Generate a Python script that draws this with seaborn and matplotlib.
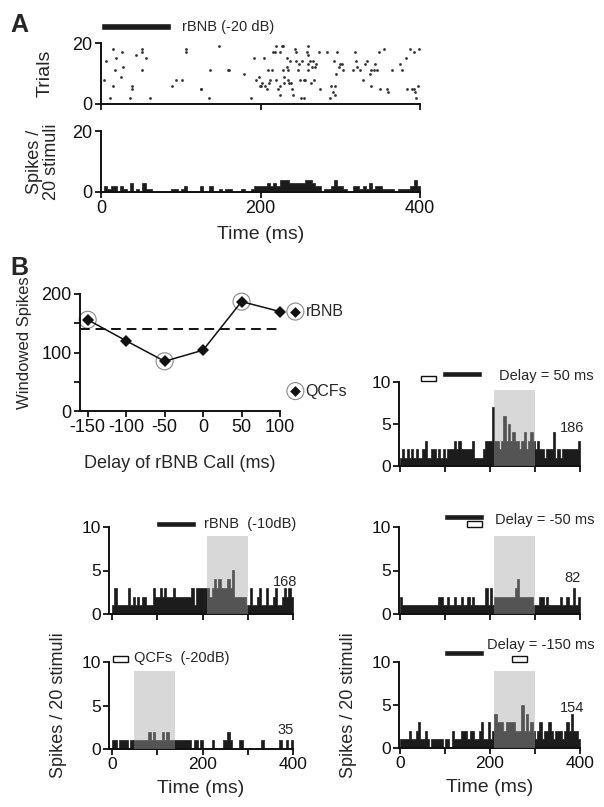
import numpy as np
import pandas as pd
import seaborn as sns
import matplotlib.pyplot as plt

sns.set_theme(style="ticks")
plt.rcParams['font.family'] = ['Liberation Sans', 'DejaVu Sans']
plt.rcParams['axes.unicode_minus'] = False

# ---- panel A: raster (spike time in ms, trial number) ----
raster_ms = [4, 6, 11, 15, 15, 18, 19, 25, 26, 28,
             36, 39, 39, 44, 52, 52, 52, 56, 62, 89,
             94, 102, 107, 107, 125, 126, 136, 137, 148, 159,
             160, 179, 188, 192, 194, 198, 199, 200, 202, 204,
             206, 208, 210, 211, 212, 214, 216, 218, 219, 220,
             222, 225, 225, 225, 227, 228, 228, 230, 230, 233,
             233, 234, 235, 236, 237, 238, 240, 241, 243, 245,
             245, 247, 248, 250, 251, 252, 254, 255, 256, 258,
             259, 259, 260, 260, 262, 263, 264, 266, 267, 268,
             270, 273, 275, 283, 287, 288, 291, 292, 293, 293,
             295, 296, 298, 300, 302, 304, 316, 319, 320, 321,
             325, 329, 331, 333, 337, 338, 339, 342, 344, 346,
             348, 350, 355, 358, 360, 365, 375, 377, 383, 384,
             388, 390, 392, 393, 394, 395, 398, 399]
raster_trial = [8, 14, 2, 18, 6, 11, 15, 9, 17, 12,
                2, 5, 6, 16, 18, 17, 11, 15, 2, 6,
                8, 8, 18, 17, 5, 5, 2, 11, 19, 11,
                11, 10, 2, 15, 8, 9, 6, 6, 7, 15,
                6, 5, 11, 7, 8, 11, 17, 17, 19, 8,
                5, 3, 6, 17, 19, 19, 11, 9, 7, 15,
                12, 8, 11, 7, 14, 7, 5, 3, 18, 17,
                14, 11, 13, 8, 2, 14, 2, 8, 8, 17,
                19, 16, 11, 13, 14, 7, 12, 14, 8, 12,
                13, 17, 5, 17, 2, 6, 4, 14, 6, 3,
                10, 17, 12, 13, 13, 11, 11, 17, 14, 12,
                11, 8, 13, 14, 10, 11, 6, 11, 13, 11,
                17, 5, 18, 5, 4, 11, 13, 11, 15, 5,
                18, 5, 17, 5, 4, 2, 6, 18]

# ---- panel B: windowed spikes vs delay ----
delays = [-150, -100, -50, 0, 50, 100]
windowed = [156, 120, 85, 104, 187, 170]
circled_delays = [-150, -50, 50]
circled_vals = [156, 85, 187]
alone_labels = ["rBNB", "QCFs"]
alone_vals = [170, 34]
baseline_val = 140

# ---- PSTHs, 5 ms bins from 0 to 400 ms ----
bin_starts = np.arange(0, 400, 5)
psth_delay_50 = [1, 2, 1, 2, 1, 2, 1, 2, 1, 1,
                 2, 3, 1, 1, 2, 2, 1, 2, 1, 2,
                 1, 2, 2, 2, 3, 2, 3, 2, 2, 2,
                 2, 2, 3, 1, 1, 1, 1, 2, 3, 3,
                 3, 7, 3, 3, 2, 3, 6, 3, 5, 3,
                 4, 3, 3, 2, 3, 4, 2, 3, 4, 3,
                 2, 3, 2, 2, 1, 2, 2, 2, 4, 1,
                 2, 1, 2, 2, 2, 2, 2, 2, 2, 3]
psth_rbnb_10db = [1, 3, 1, 1, 1, 1, 1, 3, 1, 2,
                  1, 2, 1, 2, 2, 1, 1, 1, 3, 2,
                  2, 3, 2, 3, 2, 2, 2, 3, 2, 2,
                  2, 2, 2, 2, 2, 3, 1, 3, 3, 3,
                  3, 3, 3, 2, 3, 4, 3, 4, 3, 3,
                  3, 4, 3, 5, 2, 2, 2, 2, 2, 1,
                  1, 3, 1, 1, 2, 3, 1, 1, 3, 1,
                  1, 2, 3, 1, 1, 2, 3, 2, 3, 2]
psth_delay_m50 = [2, 1, 1, 1, 1, 1, 1, 1, 1, 1,
                  1, 1, 1, 1, 1, 1, 1, 2, 2, 1,
                  1, 2, 1, 1, 2, 1, 1, 2, 1, 1,
                  2, 1, 2, 1, 1, 1, 1, 1, 3, 1,
                  3, 1, 2, 2, 2, 2, 2, 2, 2, 2,
                  2, 3, 4, 2, 2, 2, 2, 2, 2, 1,
                  1, 1, 2, 2, 1, 2, 1, 1, 1, 1,
                  1, 2, 1, 1, 2, 1, 1, 3, 1, 2]
psth_qcf_20db = [1, 1, 0, 1, 1, 1, 1, 0, 1, 1,
                 1, 1, 1, 1, 1, 1, 2, 1, 2, 1,
                 1, 1, 2, 1, 2, 1, 1, 1, 1, 1,
                 1, 1, 1, 1, 1, 0, 1, 1, 0, 1,
                 0, 0, 0, 0, 1, 0, 0, 0, 0, 1,
                 1, 2, 1, 0, 0, 0, 1, 1, 0, 0,
                 0, 0, 0, 0, 0, 0, 1, 0, 0, 0,
                 0, 0, 0, 0, 1, 0, 0, 1, 0, 1]
psth_delay_m150 = [1, 1, 1, 1, 2, 1, 1, 2, 3, 1,
                   1, 2, 1, 0, 1, 1, 1, 1, 1, 0,
                   1, 1, 0, 2, 1, 1, 1, 2, 2, 2,
                   1, 2, 2, 1, 1, 2, 3, 1, 1, 3,
                   1, 2, 4, 3, 3, 3, 2, 3, 3, 3,
                   3, 2, 2, 2, 5, 2, 4, 2, 3, 2,
                   1, 2, 3, 1, 2, 2, 3, 2, 1, 2,
                   2, 2, 1, 2, 3, 2, 4, 2, 2, 1]

rbnb_len = 88
qcf_len = 33
rbnb_a_onset = 0
windowed_totals = [186, 168, 82, 35, 154]

W, H = 604, 807
fig = plt.figure(figsize=(W / 100, H / 100), dpi=100)
dark = "#1c1c1c"


def add_ax(x0, y0, x1, y1):
    return fig.add_axes([x0 / W, 1 - y1 / H, (x1 - x0) / W, (y1 - y0) / H])


def style(ax, size=12.5):
    sns.despine(ax=ax)
    for s in ("left", "bottom"):
        ax.spines[s].set_linewidth(1.4)
        ax.spines[s].set_color("#111")
    ax.tick_params(direction="out", length=4, width=1.3, labelsize=size,
                   colors="#111", pad=2)


# ---------------- A: raster ----------------
ax = add_ax(101, 43, 420, 104)
sns.scatterplot(x=raster_ms, y=raster_trial, marker="o", s=4, color="#333",
                linewidth=0, ax=ax, clip_on=False)
ax.set_xlim(0, 400)
ax.set_ylim(0, 20)
ax.set_xticks([0, 200, 400], ["", "", ""])
ax.set_yticks([0, 20])
style(ax, 13)
ax.set_xlabel("")
ax.set_ylabel("Trials", fontsize=14)
ax.yaxis.set_label_coords(-0.15, 0.5)
ax.barh(25.3, rbnb_len, left=rbnb_a_onset, height=2.3, color=dark, clip_on=False)
ax.text(102, 25.3, "rBNB (-20 dB)", fontsize=10.5, va="center")
fig.text(10 / W, 1 - 32 / H, "A", fontsize=18, fontweight="bold")

# ---------------- A: histogram ----------------
ax = add_ax(101, 131, 420, 192)
sns.histplot(x=raster_ms, binwidth=4, binrange=(0, 400), element="step",
             fill=True, color=dark, alpha=1, linewidth=0.5, ax=ax)
ax.set_xlim(0, 400)
ax.set_ylim(0, 20)
ax.set_xticks([0, 200, 400])
ax.set_yticks([0, 20])
style(ax, 13)
ax.set_ylabel("Spikes /\n20 stimuli", fontsize=13, linespacing=1.0)
ax.yaxis.set_label_coords(-0.13, 0.5)
ax.set_xlabel("Time (ms)", fontsize=14)
ax.xaxis.set_label_coords(0.5, -0.55)

# ---------------- B: delay tuning ----------------
ax = add_ax(80, 294, 280, 411)
ax.axhline(baseline_val, color="#111", linestyle=(0, (5, 3)), linewidth=1.4)
sns.lineplot(x=delays, y=windowed, marker="D", markersize=6, color="#111",
             linewidth=1.1, markeredgewidth=0, ax=ax, clip_on=False)
sns.scatterplot(x=circled_delays + [120, 120], y=circled_vals + alone_vals,
                marker="o", s=150, facecolor="none", edgecolor="#888",
                linewidth=0.8, ax=ax, clip_on=False)
sns.scatterplot(x=[120, 120], y=alone_vals, marker="D", s=30, color="#111",
                linewidth=0, ax=ax, clip_on=False)
for lab, v in zip(alone_labels, alone_vals):
    ax.text(133, v, lab, fontsize=11.5, va="center")
ax.set_xlim(-160, 100)
ax.set_ylim(0, 200)
ax.set_xticks(delays)
ax.set_yticks([0, 50, 100, 150, 200], ["0", "", "100", "", "200"])
style(ax, 13)
ax.set_ylabel("Windowed Spikes", fontsize=12)
ax.yaxis.set_label_coords(-0.24, 0.58)
ax.set_xlabel("Delay of rBNB Call (ms)", fontsize=13)
ax.xaxis.set_label_coords(0.5, -0.38)
fig.text(10 / W, 1 - 275 / H, "B", fontsize=18, fontweight="bold")

# ---------------- B: PSTH panels ----------------
panels = [
    dict(box=(399, 382, 580, 466), xl=-2, counts=psth_delay_50, win=(210, 300),
         rbnb=94, qcf=47, rbnb_y=10.95, qcf_y=10.36,
         label="Delay = 50 ms", lx=221, ly=10.7, total_y=4.5, bottom=False),
    dict(box=(109, 527, 293, 614), xl=-7, counts=psth_rbnb_10db, win=(210, 300),
         rbnb=98, qcf=None, rbnb_y=10.3, qcf_y=None,
         label="rBNB  (-10dB)", lx=203, ly=10.3, total_y=3.7, bottom=False),
    dict(box=(399, 527, 580, 614), xl=-2, counts=psth_delay_m50, win=(210, 300),
         rbnb=98, qcf=149, rbnb_y=11.2, qcf_y=10.35,
         label="Delay = -50 ms", lx=212, ly=10.8, total_y=4.1, bottom=False),
    dict(box=(109, 662, 293, 749), xl=-7, counts=psth_qcf_20db, win=(48, 140),
         rbnb=None, qcf=2, rbnb_y=None, qcf_y=10.35,
         label="QCFs  (-20dB)", lx=48, ly=10.45, total_y=2.2, bottom=True),
    dict(box=(399, 662, 580, 748), xl=-2, counts=psth_delay_m150, win=(210, 300),
         rbnb=98, qcf=249, rbnb_y=11.0, qcf_y=10.35,
         label="Delay = -150 ms", lx=194, ly=12.0, total_y=4.6, bottom=True),
]
for p, total in zip(panels, windowed_totals):
    ax = add_ax(*p["box"])
    df = pd.DataFrame({"t": bin_starts + 2.5, "n": p["counts"]})
    sns.histplot(data=df, x="t", weights="n", binwidth=5, binrange=(0, 400),
                 element="step", fill=True, color=dark, alpha=1,
                 linewidth=0.5, ax=ax)
    ax.axvspan(p["win"][0], p["win"][1], ymin=0, ymax=0.9, color="#a4a4a4",
               alpha=0.42, lw=0, zorder=3)
    ax.set_xlim(p["xl"], 400)
    ax.set_ylim(0, 10)
    ax.set_yticks([0, 5, 10])
    if p["bottom"]:
        ax.set_xticks([0, 100, 200, 300, 400], ["0", "", "200", "", "400"])
    else:
        ax.set_xticks([0, 100, 200, 300, 400], [""] * 5)
    style(ax)
    ax.set_ylabel("")
    ax.set_xlabel("")
    if p["rbnb"] is not None:
        ax.barh(p["rbnb_y"], rbnb_len, left=p["rbnb"], height=0.7, color=dark,
                clip_on=False)
    if p["qcf"] is not None:
        ax.barh(p["qcf_y"], qcf_len, left=p["qcf"], height=0.6, color="white",
                edgecolor="#111", linewidth=1.0, clip_on=False)
    ax.text(p["lx"], p["ly"], p["label"], fontsize=10.5, va="center")
    ax.text(383, p["total_y"], str(total), fontsize=10.5, ha="center", va="center")
    if p["bottom"]:
        ax.set_ylabel("Spikes / 20 stimuli", fontsize=13)
        ax.yaxis.set_label_coords(-0.23, 0.5)
        ax.set_xlabel("Time (ms)", fontsize=14)
        ax.xaxis.set_label_coords(0.5, -0.36)

fig.savefig("out.png", dpi=100)
